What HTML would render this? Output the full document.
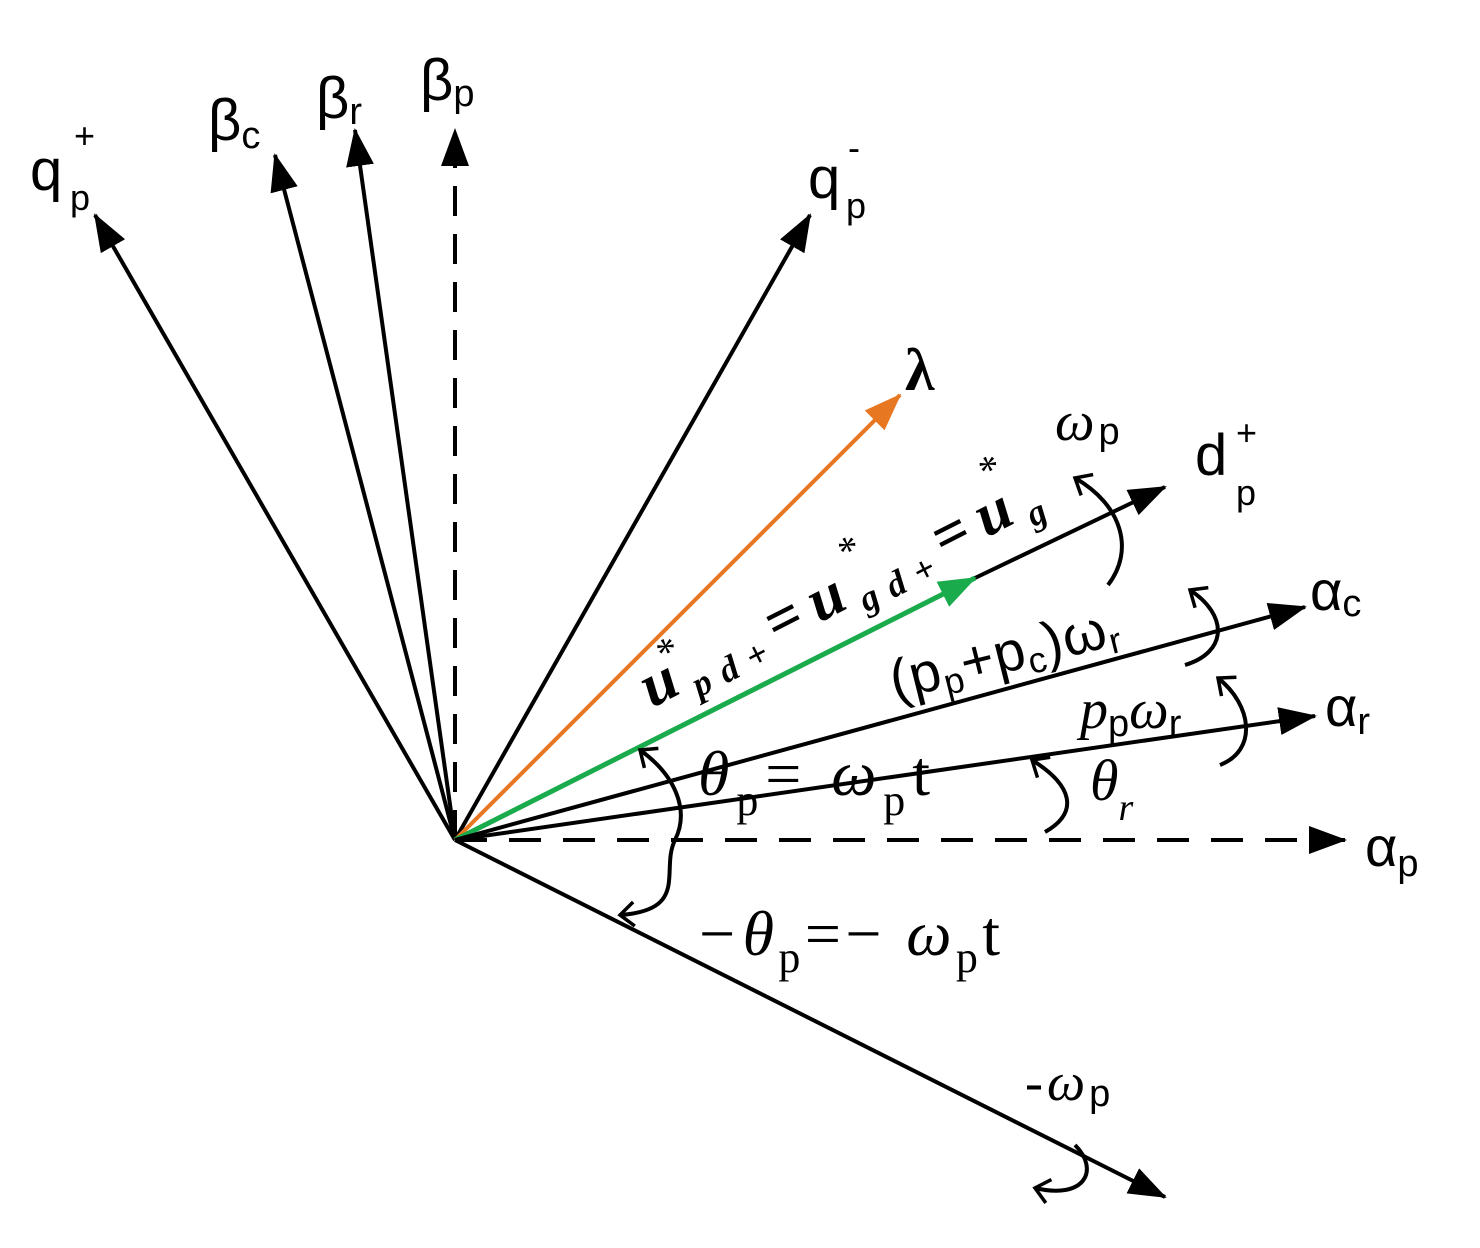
<!DOCTYPE html>
<html><head><meta charset="utf-8"><style>
html,body{margin:0;padding:0;background:#fff;}
svg{display:block;}
text{font-family:"Liberation Sans",sans-serif;fill:#000;}
.s{font-family:"Liberation Serif",serif;font-style:italic;}
.r{font-family:"Liberation Serif",serif;font-style:normal;}
.sa{font-family:"Liberation Sans",sans-serif;font-style:normal;}
.ub{font-family:"Liberation Serif",serif;font-weight:bold;font-style:italic;}
.lam{font-family:"Liberation Serif",serif;font-weight:bold;}
</style></head><body>
<svg width="1480" height="1248" viewBox="0 0 1480 1248" xmlns="http://www.w3.org/2000/svg">
<defs>
<marker id="a" markerUnits="userSpaceOnUse" markerWidth="40" markerHeight="30" refX="36" refY="14" orient="auto"><path d="M0,0 L38,14 L0,28 Z" fill="#000"/></marker>
<marker id="ao" markerUnits="userSpaceOnUse" markerWidth="40" markerHeight="30" refX="36" refY="14" orient="auto"><path d="M0,0 L38,14 L0,28 Z" fill="#e87722"/></marker>
<marker id="ag" markerUnits="userSpaceOnUse" markerWidth="40" markerHeight="30" refX="36" refY="14" orient="auto"><path d="M0,0 L38,14 L0,28 Z" fill="#1aab4c"/></marker>
<marker id="c" markerUnits="userSpaceOnUse" markerWidth="30" markerHeight="30" refX="16" refY="15" orient="auto"><path d="M2,3 L16,15 L2,27" fill="none" stroke="#000" stroke-width="3.5"/></marker>
</defs>
<g stroke="#000" stroke-width="4" fill="none">
<line x1="455" y1="840" x2="95" y2="215" marker-end="url(#a)"/>
<line x1="455" y1="840" x2="275" y2="155" marker-end="url(#a)"/>
<line x1="455" y1="840" x2="355" y2="130" marker-end="url(#a)"/>
<line x1="455" y1="840" x2="455" y2="130" stroke-dasharray="30,18" marker-end="url(#a)"/>
<line x1="455" y1="840" x2="810" y2="215" marker-end="url(#a)"/>
<line x1="455" y1="840" x2="900" y2="395" stroke="#e87722" marker-end="url(#ao)"/>
<line x1="975" y1="578" x2="1165" y2="487" marker-end="url(#a)"/>
<line x1="455" y1="840" x2="975" y2="578" stroke="#1aab4c" stroke-width="5" marker-end="url(#ag)"/>
<line x1="455" y1="840" x2="1305" y2="607" marker-end="url(#a)"/>
<line x1="455" y1="840" x2="1315" y2="716" marker-end="url(#a)"/>
<line x1="455" y1="840" x2="1345" y2="840" stroke-dasharray="32,22" marker-end="url(#a)"/>
<line x1="455" y1="840" x2="1165" y2="1197" marker-end="url(#a)"/>
<path d="M1108,585 C1135,550 1122,505 1075,478" marker-end="url(#c)"/>
<path d="M1185,665 C1228,652 1228,615 1190,590" marker-end="url(#c)"/>
<path d="M1220,765 C1258,750 1252,705 1218,678" marker-end="url(#c)"/>
<path d="M1045,832 C1080,812 1072,785 1032,760" marker-end="url(#c)"/>
<path d="M675,840 C690,810 675,775 640,750" marker-end="url(#c)"/>
<path d="M675,840 C660,870 690,910 620,915" marker-end="url(#c)"/>
<path d="M1075,1145 C1100,1170 1085,1200 1035,1188" marker-end="url(#c)"/>
</g>
<text x="30" y="190" font-size="58">q</text><text x="70" y="210" font-size="36">p</text><text x="74" y="148" font-size="36">+</text>
<text x="208" y="140" font-size="58">β<tspan font-size="38" dy="8">c</tspan></text>
<text x="316" y="118" font-size="58">β<tspan font-size="38" dy="6">r</tspan></text>
<text x="420" y="100" font-size="58">β<tspan font-size="38" dy="6">p</tspan></text>
<text x="808" y="198" font-size="58">q</text><text x="846" y="218" font-size="36">p</text><text x="848" y="160" font-size="36">-</text>
<text x="905" y="390" font-size="60" class="lam">λ</text>
<text x="1055" y="440" font-size="56" class="s" letter-spacing="4">ω<tspan class="sa" font-size="38" dy="4">p</tspan></text>
<text x="1195" y="475" font-size="58">d</text><text x="1236" y="505" font-size="36">p</text><text x="1236" y="445" font-size="36">+</text>
<text x="1310" y="610" font-size="56">α<tspan font-size="38" dy="6">c</tspan></text>
<text x="1325" y="726" font-size="56">α<tspan font-size="38" dy="8">r</tspan></text>
<text x="1365" y="866" font-size="56">α<tspan font-size="38" dy="10">p</tspan></text>
<text x="1025" y="1100" font-size="54" class="s" letter-spacing="4">-ω<tspan class="sa" font-size="38" dy="6">p</tspan></text>
<g transform="translate(652,708) rotate(-27)">
<text class="ub" x="0" y="0" font-size="62" textLength="440" lengthAdjust="spacing">u<tspan font-size="36" dy="12">pd+</tspan><tspan font-style="normal" font-size="62" dy="-12">=</tspan>u<tspan font-size="36" dy="12">gd+</tspan><tspan font-style="normal" font-size="62" dy="-12">=</tspan>u<tspan font-size="36" dy="12">g</tspan></text>
<text class="r" x="30" y="-30" font-size="40">*</text>
<text class="r" x="238" y="-38" font-size="40">*</text>
<text class="r" x="400" y="-46" font-size="40">*</text>
</g>
<g transform="translate(895,700) rotate(-14)">
<text x="0" y="0" font-size="56" letter-spacing="1">(p<tspan font-size="36" dy="8">p</tspan><tspan dy="-8">+p</tspan><tspan font-size="36" dy="8">c</tspan><tspan dy="-8">)ω</tspan><tspan font-size="36" dy="8">r</tspan></text>
</g>
<text x="1080" y="728" font-size="56" class="s">p<tspan class="sa" font-size="38" dy="8">p</tspan><tspan dy="-8">ω</tspan><tspan class="sa" font-size="38" dy="8">r</tspan></text>
<text x="698" y="795" font-size="64" class="s" textLength="232" lengthAdjust="spacing">θ<tspan class="r" font-size="44" dy="20">p</tspan><tspan class="r" dy="-20">= </tspan>ω<tspan class="r" font-size="44" dy="20">p</tspan><tspan class="r" dy="-20">t</tspan></text>
<text x="1090" y="800" font-size="58" class="s">θ<tspan font-size="38" dy="20">r</tspan></text>
<text x="695" y="955" font-size="64" class="s" textLength="305" lengthAdjust="spacing">−θ<tspan class="r" font-size="44" dy="17">p</tspan><tspan class="r" dy="-17">=− </tspan>ω<tspan class="r" font-size="44" dy="17">p</tspan><tspan class="r" dy="-17">t</tspan></text>
</svg>
</body></html>
